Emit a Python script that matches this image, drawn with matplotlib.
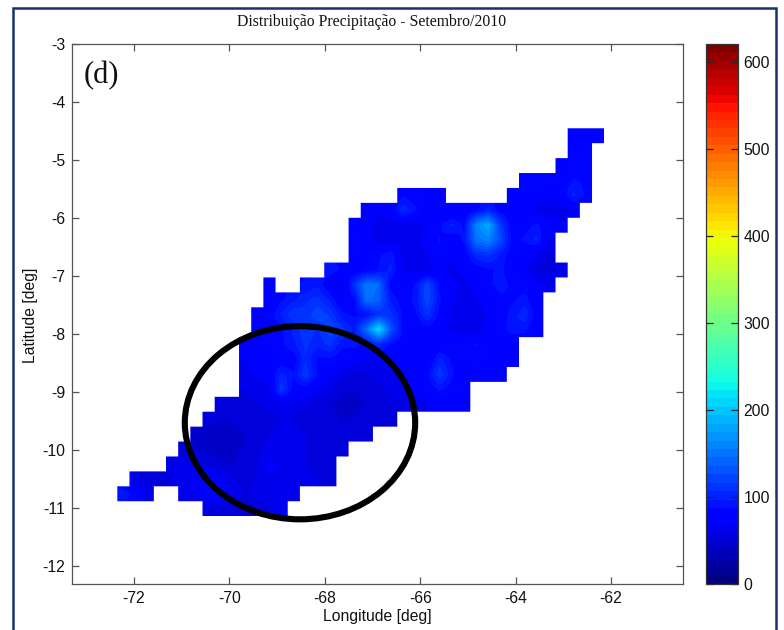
import numpy as np
import matplotlib
matplotlib.use("Agg")
import matplotlib.pyplot as plt
from matplotlib.patches import Ellipse, Rectangle
from matplotlib.path import Path

#----Grid of the precipitation field----
lon_first = -72.35
lat_first = -4.453
lon_step = 0.2552
lat_step = 0.2572
n_cols = 40
n_rows = 26

x_ticks = [-72, -70, -68, -66, -64, -62]
y_ticks = [-3, -4, -5, -6, -7, -8, -9, -10, -11, -12]
bar_ticks = [0, 100, 200, 300, 400, 500, 600]
bar_max = 620.7

#first column of each row, from north to south
row_start = [37, 37, 36, 33, 23, 20, 19, 19, 19, 17, 12, 12, 11,
             11, 10, 10, 10, 10, 8, 7, 6, 5, 4, 1, 0, 7]

N = None
row_values = [
    [70, 75, 72],
    [78, 80],
    [75, 80, 82],
    [78, 85, 80, 78, 88, 85],
    [85, 80, 78, 70, N, N, N, N, N, 75, 78, 75, 72, 78, 100, 85],
    [72, 72, 75, 105, 90, 72, 68, 70, 72, 85, 100, 80, 72, 70, 65, 55, 62, 70],
    [78, 72, 62, 62, 65, 62, 70, 85, 100, 85, 160, 185, 115, 78, 82, 90, 75, 70],
    [85, 72, 60, 65, 62, 65, 72, 88, 78, 90, 150, 160, 125, 82, 90, 100, 65],
    [80, 75, 85, 95, 65, 62, 68, 85, 72, 78, 105, 110, 95, 80, 75, 65, 55],
    [95, 85, 75, 78, 88, 100, 68, 60, 62, 70, 65, 70, 80, 85, 90, 78, 70, 55, 55, 62],
    [78, N, N, 88, 95, 75, 58, 110, 155, 145, 80, 75, 90, 125, 85, 70, 65, 72, 85, 92, 85, 80, 70, 65],
    [75, 85, 95, 105, 110, 95, 72, 85, 150, 140, 95, 80, 90, 125, 90, 70, 62, 68, 72, 85, 85, 92, 75],
    [72, 80, 98, 115, 110, 125, 115, 90, 85, 88, 110, 110, 85, 85, 110, 82, 65, 60, 62, 70, 80, 92, 105, 80],
    [72, 78, 85, 100, 115, 105, 125, 110, 95, 150, 215, 130, 85, 75, 80, 75, 65, 58, 62, 72, 82, 95, 90, 75],
    [70, 80, 78, 85, 95, 110, 100, 110, 90, 90, 85, 105, 85, 80, 72, 70, 72, 80, 85, 88, 75, 70, 72],
    [68, 72, 72, 78, 80, 105, 85, 85, 80, 75, 68, 70, 72, 70, 72, 72, 100, 85, 75, 85, 80, 70, 68],
    [62, 70, 75, 100, 88, 115, 85, 70, 60, 55, 58, 62, 68, 68, 72, 85, 115, 90, 72, 70, 72, 72],
    [58, 62, 65, 115, 82, 80, 68, 60, 50, 50, 52, 55, 62, 65, 72, 78, 90, 82, 78],
    [58, 56, 55, 58, 60, 65, 62, 60, 52, 48, 46, 44, 50, 52, 55, 58, 62, 68, 72, 70, 75],
    [52, 50, 50, 55, 52, 55, 58, 58, 55, 52, 52, 48, 50, 50, 52, 55],
    [45, 42, 42, 45, 48, 52, 58, 62, 60, 58, 55, 52, 50, 50, 52],
    [55, 48, 45, 44, 46, 50, 55, 62, 68, 62, 58, 55, 55, 55],
    [62, 60, 62, 55, 50, 48, 52, 58, 72, 65, 60, 58, 55, 55],
    [58, 55, 52, 58, 62, 75, 85, 70, 58, 55, 58, 68, 62, 60, 60, 58, 55],
    [95, 80, 62, N, N, 58, 62, 80, 78, 62, 58, 60, 62, 62, 60],
    [58, 58, 55, 52, 55, 58, 60],
]

circle_lon = -68.52
circle_lat = -9.53
circle_w = 4.83
circle_h = 3.33


#----Putting the rows into one array and the outline of the cells----
field = np.full((n_rows, n_cols), np.nan)
verts = []
codes = []
for r in range(0, n_rows):
    for c, val in enumerate(row_values[r]):
        if val is None:
            continue
        col = row_start[r] + c
        field[r, col] = val
        x0 = lon_first + col * lon_step
        y0 = lat_first - r * lat_step
        verts += [(x0, y0), (x0 + lon_step, y0), (x0 + lon_step, y0 - lat_step),
                  (x0, y0 - lat_step), (x0, y0)]
        codes += [Path.MOVETO, Path.LINETO, Path.LINETO, Path.LINETO, Path.CLOSEPOLY]
outline = Path(verts, codes)

#empty cells take the mean of their neighbours, they are clipped away later
known = ~np.isnan(field)
filled = np.where(known, field, 70.0)
for k in range(0, 40):
    pad = np.pad(filled, 1, mode="edge")
    mean = (pad[:-2, 1:-1] + pad[2:, 1:-1] + pad[1:-1, :-2] + pad[1:-1, 2:]) / 4
    filled = np.where(known, field, mean)

plt.rcParams["font.family"] = ["Liberation Sans", "DejaVu Sans"]
fig = plt.figure(figsize=(7.84, 6.30), dpi=100, facecolor="white")
W, H = 784.0, 630.0

ax = fig.add_axes([72 / W, 1 - 584 / H, 611 / W, 540 / H])
extent = [lon_first, lon_first + n_cols * lon_step,
          lat_first - n_rows * lat_step, lat_first]
im = ax.imshow(filled, extent=extent, origin="upper", aspect="auto",
               cmap=plt.get_cmap("jet", 64), vmin=0, vmax=bar_max,
               interpolation="bilinear", interpolation_stage="data")
im.set_clip_path(outline, transform=ax.transData)

ax.set_xlim(-73.3, -60.49)
ax.set_ylim(-12.31, -3)
ax.set_xticks(x_ticks)
ax.set_yticks(y_ticks)
ax.tick_params(direction="in", top=True, right=True, length=5, width=0.9,
               color="#555555", labelsize=11.3, pad=5, labelcolor="#111111")
for s in ax.spines.values():
    s.set_color("#555555")
    s.set_linewidth(0.9)
ax.set_xticklabels([str(t) for t in x_ticks])
ax.set_yticklabels([str(t) for t in y_ticks])

ax.add_patch(Ellipse((circle_lon, circle_lat), circle_w, circle_h, fill=False,
                     edgecolor="black", linewidth=4.4, zorder=5))
ax.text(-73.05, -3.54, "(d)", family="Liberation Serif", fontsize=22,
        ha="left", va="center", color="#111111")

fig.text(372 / W, 1 - 22 / H, "Distribuição Precipitação - Setembro/2010",
         family="Liberation Serif", fontsize=11.3, ha="center", va="center",
         color="#111111")
fig.text(377 / W, 1 - 617 / H, "Longitude [deg]", fontsize=11.3, ha="center",
         va="center", color="#111111")
fig.text(31 / W, 1 - 315 / H, "Latitude [deg]", fontsize=11.3, ha="center",
         va="center", rotation=90, color="#111111")

#----Colorbar----
cax = fig.add_axes([706 / W, 1 - 584 / H, 32 / W, 540 / H])
cbar = fig.colorbar(im, cax=cax)
cbar.set_ticks(bar_ticks)
cbar.set_ticklabels([str(t) for t in bar_ticks])
cax.tick_params(direction="in", left=True, right=True, length=5, width=0.9,
                color="#222222", labelsize=11.3, pad=4, labelcolor="#111111")
cbar.outline.set_edgecolor("#333333")
cbar.outline.set_linewidth(0.9)

#----Frame around the whole figure, bottom side runs off the picture----
fig.add_artist(Rectangle((13 / W, -0.05), 763 / W, 1.05 - 8 / H,
                         transform=fig.transFigure, fill=False,
                         edgecolor="#16346f", linewidth=1.8))

fig.savefig("out.png", dpi=100, facecolor="white")
